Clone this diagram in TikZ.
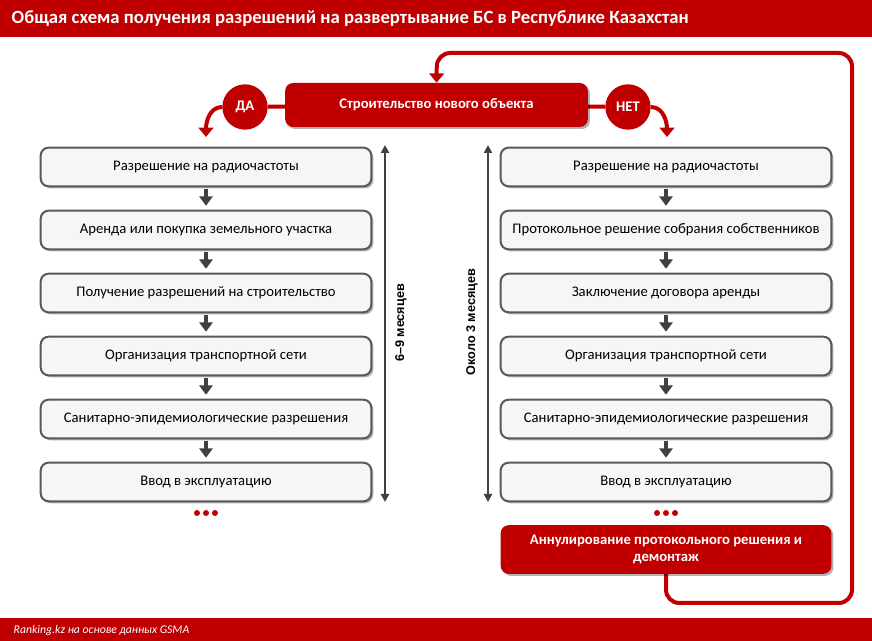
\documentclass[tikz,border=0pt]{standalone}
\usepackage{fontspec}
\setmainfont{Carlito}
\newfontfamily\arialf{Liberation Sans}
\usetikzlibrary{arrows.meta,shadows,backgrounds}
\definecolor{kred}{HTML}{C00000}
\definecolor{kgray}{HTML}{595959}
\definecolor{kdark}{HTML}{404040}
\definecolor{kfill}{HTML}{F6F6F6}
\begin{document}
\begin{tikzpicture}[x=0.75pt,y=-0.75pt,
  shade/.style={drop shadow={shadow xshift=1.5pt,shadow yshift=-1.5pt,opacity=0.3,fill=black}},
  stepbox/.style={draw=kgray, line width=1.5pt, fill=kfill, rounded corners=6pt,
     minimum width=248pt, minimum height=29pt, inner sep=0pt, font=\fontsize{11}{13}\selectfont, text=black, shade},
  redbox/.style={fill=kred, rounded corners=6pt, inner sep=0pt, text=white, font=\bfseries\fontsize{11}{13}\selectfont, shade},
  yesno/.style={circle, fill=kred, minimum size=34pt, inner sep=0pt, text=white, font=\bfseries\fontsize{11}{12}\selectfont},
  redline/.style={draw=kred, line width=3pt},
  redarrow/.style={draw=kred, line width=3pt, -{Triangle[length=7pt,width=11pt]}},
  grayarrow/.style={draw=kdark, line width=3.5pt, -{Triangle[length=7pt,width=10pt]}, shorten >=3pt, shorten <=1pt},
  timearrow/.style={draw=kdark, line width=1.5pt, {Triangle[length=6pt,width=6pt]}-{Triangle[length=6pt,width=6pt]}},
  timelabel/.style={rotate=90, text=black, font=\arialf\bfseries\fontsize{9.5}{11}\selectfont},
  dot/.style={circle, fill=kred, minimum size=4.5pt, inner sep=0pt}
]
\useasboundingbox (0,0) rectangle (872,641);
% title and footer bars
\fill[kred] (0,0) rectangle (872,37);
\node[anchor=west, text=white, font=\bfseries\fontsize{14}{16}\selectfont] (title) at (7,19)
  {Общая схема получения разрешений на развертывание БС в Республике Казахстан};
\fill[kred] (0,618) rectangle (872,641);
\node[anchor=west, text=white, font=\itshape\fontsize{8.8}{10}\selectfont] (src) at (9,630)
  {Ranking.kz на основе данных GSMA};

% top decision
\node[redbox, minimum width=227pt, minimum height=33pt] (top) at (436.5,105) {Строительство нового объекта};
\node[yesno] (da) at (245,107) {ДА};
\node[yesno] (net) at (628,107) {НЕТ};

% left column
\node[stepbox] (L1) at (206,167) {Разрешение на радиочастоты};
\node[stepbox] (L2) at (206,230) {Аренда или покупка земельного участка};
\node[stepbox] (L3) at (206,293) {Получение разрешений на строительство};
\node[stepbox] (L4) at (206,356) {Организация транспортной сети};
\node[stepbox] (L5) at (206,419) {Санитарно-эпидемиологические разрешения};
\node[stepbox] (L6) at (206,482) {Ввод в эксплуатацию};

% right column
\node[stepbox] (R1) at (666,167) {Разрешение на радиочастоты};
\node[stepbox] (R2) at (666,230) {Протокольное решение собрания собственников};
\node[stepbox] (R3) at (666,293) {Заключение договора аренды};
\node[stepbox] (R4) at (666,356) {Организация транспортной сети};
\node[stepbox] (R5) at (666,419) {Санитарно-эпидемиологические разрешения};
\node[stepbox] (R6) at (666,482) {Ввод в эксплуатацию};
\node[redbox, minimum width=248pt, minimum height=36.5pt, align=center] (ann) at (666,549.5)
  {Аннулирование протокольного решения и\\демонтаж};

% dots
\foreach \i/\xx in {1/-9,2/0,3/9}{
  \node[dot] (dl\i) at (206+\xx,513) {};
  \node[dot] (dr\i) at (666+\xx,513) {};
}

% gray arrows
\foreach \a/\b in {1/2,2/3,3/4,4/5,5/6}{
  \draw[grayarrow] (L\a) -- (L\b);
  \draw[grayarrow] (R\a) -- (R\b);
}

% time arrows
\coordinate (lt) at (385,145);
\coordinate (lb) at (385,502);
\coordinate (rt) at (488,145);
\coordinate (rb) at (488,502);
\draw[timearrow] (lt) -- (lb);
\draw[timearrow] (rt) -- (rb);
\node[timelabel] (lm) at (401,323) {6–9 месяцев};
\node[timelabel] (rm) at (472,322) {Около 3 месяцев};

% red connectors
\coordinate (dat) at (206,137);
\coordinate (nett) at (667,137);
\coordinate (c1) at (852,603);
\coordinate (c2) at (437,53);
\begin{pgfonlayer}{background}
\fill[white] (0,37) rectangle (872,618);
\draw[redline] (da) -- (top);
\draw[redline] (net) -- (top);
\draw[redarrow, rounded corners=10pt] (ann.south) |- (c1) |- (c2) -- (top.north);
\end{pgfonlayer}
\draw[redarrow] (da.west) to[out=180,in=90] (dat);
\draw[redarrow] (net.east) to[out=0,in=90] (nett);
\end{tikzpicture}
\end{document}
